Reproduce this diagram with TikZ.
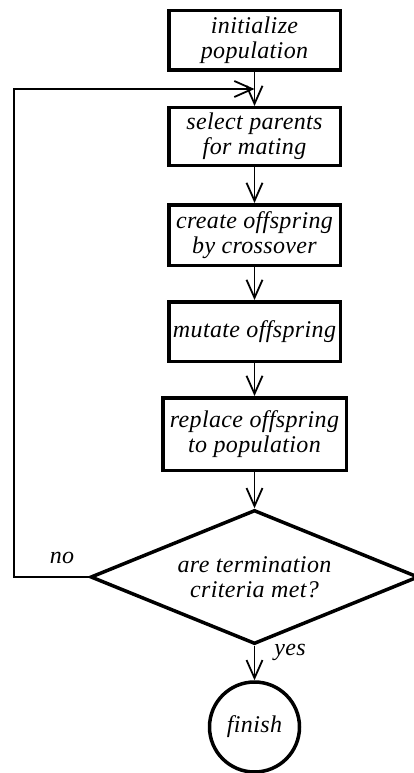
\documentclass[tikz,border=0pt]{standalone}
\usepackage{fontspec}
\setmainfont{Liberation Serif}
\usetikzlibrary{shapes.geometric,arrows.meta,calc}
\newfontfamily\lblfont[LetterSpace=1.5]{Liberation Serif}
\tikzset{
  txt/.style={font=\lblfont\itshape\fontsize{24}{25}\selectfont},
  stepbox/.style={txt, draw, line width=3.5pt, minimum width=171.5pt, inner sep=0pt, align=center},
  decision/.style={txt, draw, diamond, shape aspect=2.44, line width=3.5pt, minimum width=328pt,
    minimum height=134pt, inner sep=0pt, align=center},
  endcircle/.style={txt, draw, circle, line width=3.5pt, minimum size=90pt, inner sep=0pt},
  conn/.style={line width=1.8pt, -{Straight Barb[length=18pt,width=16pt,line width=1.8pt]}},
  tag/.style={txt, inner sep=0pt}
}
\begin{document}
\begin{tikzpicture}[x=1pt,y=-1pt]
\useasboundingbox (0,0) rectangle (414,773);
\node[stepbox, minimum height=59.5pt] (init) at (254.5,40.5) {initialize\\population};
\node[stepbox, minimum height=57.5pt] (sel) at (254.5,136.5) {select parents\\for mating};
\node[stepbox, minimum height=60.5pt] (cross) at (254.5,235) {create offspring\\by crossover};
\node[stepbox, minimum height=59.5pt] (mut) at (254.5,331.5) {mutate offspring};
\node[stepbox, minimum width=183.5pt, minimum height=72.5pt] (rep) at (254.5,434) {replace offspring\\to population};
\node[decision] (dia) at (254.5,577) {are termination\\criteria met?};
\node[endcircle] (fin) at (254.5,727) {finish};
\coordinate (m) at ($(init.south)!0.5!(sel.north)$);
\coordinate (c1) at (14,577);
\coordinate (c2) at (14,89);
\draw[line width=1.8pt] (init.south) -- (m);
\draw[conn] (m) -- (sel.north);
\draw[conn] (sel.south) -- (cross.north);
\draw[conn] (cross.south) -- (mut.north);
\draw[conn] (mut.south) -- (rep.north);
\draw[conn] (rep.south) -- (dia.north);
\draw[conn] (dia.south) -- (fin.north);
\draw[conn] (dia.west) -- (c1) -- (c2) -- (m);
\node[tag] (no) at (62,558) {no};
\node[tag] (yes) at (290,652) {yes};
\end{tikzpicture}
\end{document}
